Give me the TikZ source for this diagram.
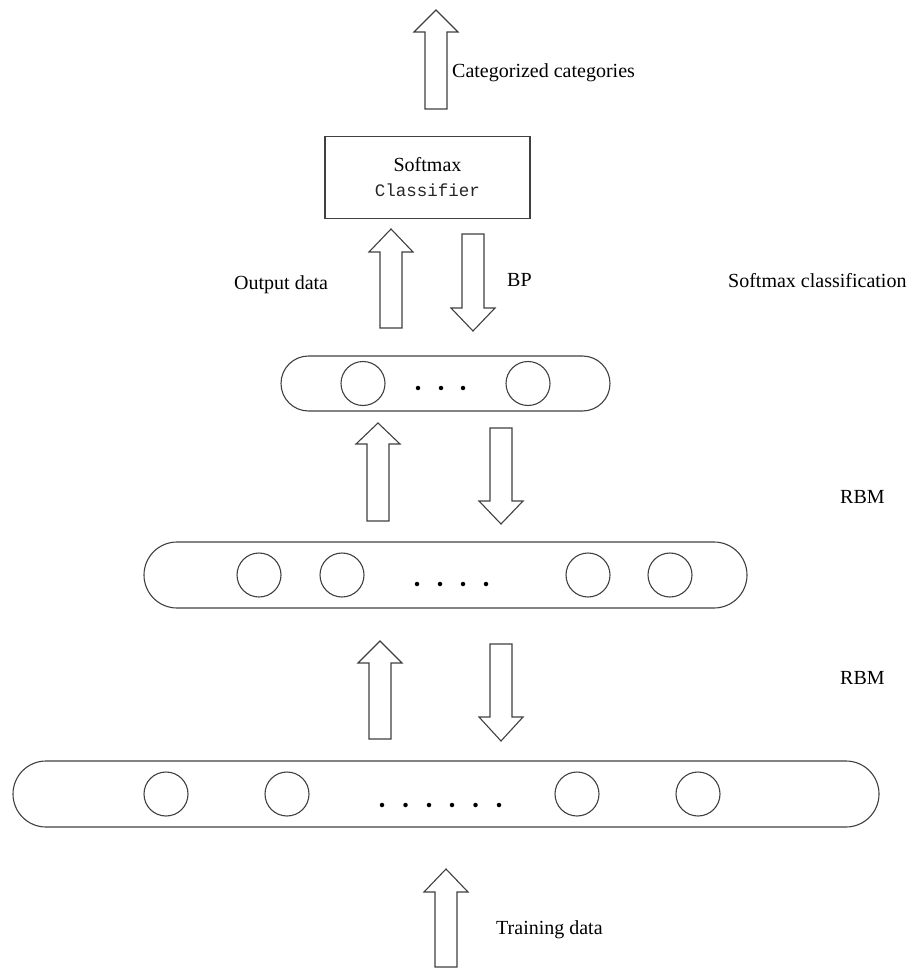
\documentclass[tikz,border=0pt]{standalone}
\usepackage{fontspec}
\setmainfont{Liberation Serif}
\newfontfamily\monofont{Liberation Mono}
\usetikzlibrary{shapes.misc}
\newcommand\blkup[4]{% cx, tip y, head-base y, bottom y
  \draw[blk] (#1-11,#4) -- (#1-11,#3) -- (#1-22,#3) -- (#1,#2) -- (#1+22,#3) -- (#1+11,#3) -- (#1+11,#4) -- cycle;}
\newcommand\blkdown[4]{% cx, top y, head-base y, tip y
  \draw[blk] (#1-11,#2) -- (#1-11,#3) -- (#1-22,#3) -- (#1,#4) -- (#1+22,#3) -- (#1+11,#3) -- (#1+11,#2) -- cycle;}
\begin{document}
\begin{tikzpicture}[x=1pt,y=-1pt,
  line/.style={draw=black!75, line width=1.1pt},
  layer/.style={line, rounded rectangle, inner sep=0pt},
  unit/.style={line, circle, minimum size=44pt, inner sep=0pt},
  dot/.style={circle, fill=black, minimum size=4.5pt, inner sep=0pt},
  lbl/.style={font=\fontsize{20}{24}\selectfont, inner sep=0pt, anchor=west},
  blk/.style={line, fill=white, line join=miter}
]
\useasboundingbox (0,0) rectangle (913,968);

% top arrow and classifier
\blkup{436}{10}{32}{109}
\node[lbl] (cat) at (452,73) {Categorized categories};
\node[line, minimum width=205pt, minimum height=82pt, inner sep=0pt, align=center,
      font=\fontsize{20}{25}\selectfont] (sm) at (427.5,177.5)
  {Softmax\\{\monofont\fontsize{17.5}{21}\selectfont\color{black!85}Classifier}};

% arrows between classifier and top layer
\blkup{391}{229}{252}{328}
\blkdown{473}{234}{308}{331}
\node[lbl] (out) at (234,285) {Output data};
\node[lbl] (bp) at (507,280) {BP};
\node[lbl] (smc) at (728,281) {Softmax classification};

% top layer
\node[layer, minimum width=329pt, minimum height=55pt] (L3) at (445.5,383.5) {};
\node[unit] (L3a) at (363,383.5) {};
\node[unit] (L3b) at (528,383.5) {};
\foreach \x [count=\i] in {418,441,463} \node[dot] (L3d\i) at (\x,388) {};

% arrows between top and middle layers
\blkup{378}{423}{444}{521}
\blkdown{501}{428}{501}{524}
\node[lbl] (rbm1) at (840,497) {RBM};

% middle layer
\node[layer, minimum width=603pt, minimum height=66pt] (L2) at (445.5,575) {};
\foreach \x [count=\i] in {259,342,588,670} \node[unit] (L2c\i) at (\x,575) {};
\foreach \x [count=\i] in {417,440,463,486} \node[dot] (L2d\i) at (\x,584) {};

% arrows between middle and bottom layers
\blkup{380}{641}{663}{739}
\blkdown{501}{644}{717}{741}
\node[lbl] (rbm2) at (840,678) {RBM};

% bottom layer
\node[layer, minimum width=866pt, minimum height=66pt] (L1) at (446,794) {};
\foreach \x [count=\i] in {166,287,577,698} \node[unit] (L1c\i) at (\x,794) {};
\foreach \x [count=\i] in {382,405.5,429,452,475.5,499} \node[dot] (L1d\i) at (\x,805) {};

% input arrow
\blkup{446}{869}{892}{967}
\node[lbl] (train) at (496,930) {Training data};
\end{tikzpicture}
\end{document}
